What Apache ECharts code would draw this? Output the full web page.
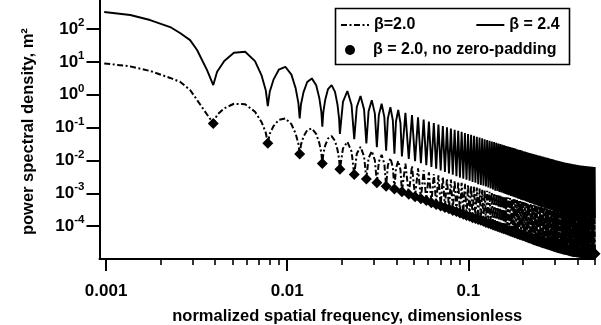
<!DOCTYPE html>
<html>
<head>
<meta charset="utf-8">
<script src="https://cdn.jsdelivr.net/npm/echarts@6/dist/echarts.min.js"></script>
<style>html,body{margin:0;padding:0;background:#fff}#c{width:601px;height:325px}</style>
</head>
<body>
<div id="c"></div>
<script>
// ---------------- data ----------------
// spectrum bins: frequency = bin / BINS (zero-padded spectrum, lobes between bins)
const BINS = 256;

// main lobe, before the first bin
const mainFreq  = [0.000977, 0.00136, 0.00175, 0.00226, 0.00256, 0.00291, 0.00318, 0.00361];
const mainSolid = [330, 267, 188, 115, 75.5, 46, 23, 5.6];          // beta = 2.4
const mainDash  = [9.0, 7.3, 5.3, 3.25, 2.48, 1.40, 0.69, 0.25];     // beta = 2.0

// lobe shoulder positions (fraction of a bin) used for the first wide lobes
const fineT = [0.05, 0.15, 0.3, 0.7, 0.85, 0.95];
const midT  = [0.2, 0.8];

// beta = 2.4 : shoulders of lobes 1-4 and 5-10
const solidShoulderFine = [
  [5.02, 10.7, 19.0, 10.6, 3.82, 1.34],
  [1.23, 2.88, 5.78, 4.10, 1.57, 0.567],
  [0.513, 1.20, 2.45, 1.94, 0.79, 0.302],
  [0.292, 0.706, 1.49, 1.22, 0.50, 0.187]
];
const solidShoulderMid = [[0.608, 0.489], [0.424, 0.353], [0.313, 0.266], [0.240, 0.208], [0.190, 0.167], [0.153, 0.137]];

// beta = 2.0 : shoulders of lobes 1-4 and 5-10
const dashShoulderFine = [
  [0.245, 0.386, 0.532, 0.304, 0.145, 0.0695],
  [0.0643, 0.111, 0.172, 0.127, 0.0655, 0.0326],
  [0.0304, 0.0531, 0.0836, 0.0644, 0.0336, 0.0169],
  [0.0160, 0.0286, 0.0465, 0.0393, 0.0213, 0.0110]
];
const dashShoulderMid = [[0.0232, 0.0187], [0.0160, 0.0133], [0.0118, 0.0101], [0.00906, 0.00785], [0.00716, 0.00630], [0.00581, 0.00519]];

// beta = 2.4 : lobe peaks (bins 1.5 ... 127.5) and dips (bins 1 ... 128)
const solidPeaks = [20.4, 7.11, 3.15, 1.97, 1.30, 0.92, 0.685, 0.53, 0.42, 0.343,
  0.284, 0.239, 0.204, 0.176, 0.153, 0.137, 0.124, 0.112, 0.102, 0.0938,
  0.0863, 0.0798, 0.0740, 0.0687, 0.0641, 0.0600, 0.0562, 0.0528, 0.0498, 0.0470,
  0.0445, 0.0421, 0.0399, 0.0379, 0.0361, 0.0344, 0.0328, 0.0314, 0.0301, 0.0288,
  0.0277, 0.0266, 0.0256, 0.0246, 0.0237, 0.0229, 0.0220, 0.0213, 0.0206, 0.0199,
  0.0192, 0.0186, 0.0180, 0.0175, 0.0169, 0.0165, 0.0160, 0.0156, 0.0152, 0.0149,
  0.0145, 0.0141, 0.0138, 0.0135, 0.0132, 0.0129, 0.0126, 0.0123, 0.0120, 0.0118,
  0.0115, 0.0113, 0.0110, 0.0108, 0.0106, 0.0104, 0.0102, 0.0100, 0.0098, 0.0096,
  0.0094, 0.0093, 0.0091, 0.0089, 0.0088, 0.00865, 0.00855, 0.00844, 0.00834, 0.00824,
  0.00815, 0.00805, 0.00796, 0.00787, 0.00779, 0.00771, 0.00762, 0.00755, 0.00746, 0.00739,
  0.00731, 0.00724, 0.00716, 0.00710, 0.00705, 0.00700, 0.00697, 0.00692, 0.00689, 0.00684,
  0.00681, 0.00676, 0.00673, 0.00670, 0.00665, 0.00662, 0.00659, 0.00655, 0.00652, 0.00649,
  0.00646, 0.00641, 0.00638, 0.00635, 0.00632, 0.00630, 0.00627];
const solidDips = [1.97, 0.45, 0.19, 0.106, 0.0644, 0.0447, 0.0329, 0.0252, 0.0199, 0.0161,
  0.0133, 0.0112, 0.0095, 0.0082, 0.0072, 0.0063, 0.0056, 0.0050, 0.0045, 0.0040,
  0.0037, 0.0033, 0.0030, 0.0028, 0.0026, 0.0024, 0.0022, 0.0021, 0.0019, 0.0018,
  0.0017, 0.0016, 0.0015, 0.0014, 0.0013, 0.0012, 0.00118, 0.0011, 0.00106, 0.0010,
  9.6e-4, 9.1e-4, 8.7e-4, 8.3e-4, 8.0e-4, 7.6e-4, 7.3e-4, 7.0e-4, 6.7e-4, 6.4e-4,
  6.2e-4, 6.0e-4, 5.7e-4, 5.5e-4, 5.3e-4, 5.1e-4, 5.0e-4, 4.8e-4, 4.6e-4, 4.5e-4,
  4.3e-4, 4.2e-4, 4.1e-4, 3.9e-4, 3.83e-4, 3.74e-4, 3.64e-4, 3.56e-4, 3.46e-4, 3.38e-4,
  3.29e-4, 3.21e-4, 3.14e-4, 3.07e-4, 2.98e-4, 2.91e-4, 2.84e-4, 2.76e-4, 2.69e-4, 2.63e-4,
  2.58e-4, 2.55e-4, 2.50e-4, 2.46e-4, 2.43e-4, 2.39e-4, 2.36e-4, 2.32e-4, 2.28e-4, 2.25e-4,
  2.21e-4, 2.18e-4, 2.14e-4, 2.10e-4, 2.08e-4, 2.04e-4, 2.03e-4, 2.01e-4, 2.00e-4, 1.98e-4,
  1.97e-4, 1.96e-4, 1.94e-4, 1.92e-4, 1.91e-4, 1.90e-4, 1.89e-4, 1.88e-4, 1.86e-4, 1.84e-4,
  1.83e-4, 1.82e-4, 1.82e-4, 1.80e-4, 1.80e-4, 1.80e-4, 1.79e-4, 1.79e-4, 1.79e-4, 1.78e-4,
  1.78e-4, 1.77e-4, 1.77e-4, 1.77e-4, 1.75e-4, 1.75e-4, 1.74e-4, 1.74e-4];

// beta = 2.0 : lobe peaks (bins 1.5 ... 127.5) and dips (bins 1 ... 128, = non-padded samples)
const dashPeaks = [0.513, 0.1905, 0.0944, 0.055, 0.0372, 0.0259, 0.0193, 0.0149, 0.0118, 0.00967,
  0.0080, 0.00674, 0.00575, 0.00496, 0.00431, 0.00386, 0.00350, 0.00316, 0.00288, 0.00264,
  0.00243, 0.00225, 0.00209, 0.00194, 0.00181, 0.00169, 0.00158, 0.00149, 0.00140, 0.00132,
  0.00125, 0.00119, 0.00112, 0.00107, 0.00102, 9.7e-4, 9.2e-4, 8.9e-4, 8.5e-4, 8.1e-4,
  7.8e-4, 7.5e-4, 7.2e-4, 6.9e-4, 6.7e-4, 6.5e-4, 6.2e-4, 6.0e-4, 5.8e-4, 5.6e-4,
  5.4e-4, 5.2e-4, 5.1e-4, 4.9e-4, 4.8e-4, 4.7e-4, 4.5e-4, 4.4e-4, 4.3e-4, 4.2e-4,
  4.1e-4, 4.0e-4, 3.9e-4, 3.8e-4, 3.7e-4, 3.6e-4, 3.55e-4, 3.5e-4, 3.4e-4, 3.3e-4,
  3.2e-4, 3.2e-4, 3.1e-4, 3.0e-4, 3.0e-4, 2.9e-4, 2.9e-4, 2.8e-4, 2.8e-4, 2.7e-4,
  2.6e-4, 2.6e-4, 2.6e-4, 2.5e-4, 2.5e-4, 2.4e-4, 2.4e-4, 2.4e-4, 2.35e-4, 2.3e-4,
  2.3e-4, 2.3e-4, 2.2e-4, 2.2e-4, 2.2e-4, 2.2e-4, 2.1e-4, 2.1e-4, 2.1e-4, 2.1e-4,
  2.1e-4, 2.0e-4, 2.0e-4, 2.0e-4, 1.99e-4, 1.97e-4, 1.96e-4, 1.95e-4, 1.94e-4, 1.93e-4,
  1.92e-4, 1.90e-4, 1.90e-4, 1.89e-4, 1.87e-4, 1.87e-4, 1.86e-4, 1.85e-4, 1.84e-4, 1.83e-4,
  1.82e-4, 1.81e-4, 1.80e-4, 1.79e-4, 1.78e-4, 1.78e-4, 1.77e-4];
const dashDips = [0.134, 0.0331, 0.0156, 0.0081, 0.00536, 0.00372, 0.00273, 0.00209, 0.00165, 0.00134,
  0.00111, 9.3e-4, 7.9e-4, 6.8e-4, 6.0e-4, 5.2e-4, 4.6e-4, 4.1e-4, 3.7e-4, 3.4e-4,
  3.0e-4, 2.8e-4, 2.5e-4, 2.3e-4, 2.1e-4, 2.0e-4, 1.8e-4, 1.7e-4, 1.6e-4, 1.5e-4,
  1.4e-4, 1.3e-4, 1.23e-4, 1.16e-4, 1.09e-4, 1.03e-4, 9.8e-5, 9.3e-5, 8.8e-5, 8.4e-5,
  8.0e-5, 7.6e-5, 7.2e-5, 6.9e-5, 6.6e-5, 6.3e-5, 6.1e-5, 5.8e-5, 5.6e-5, 5.4e-5,
  5.2e-5, 5.0e-5, 4.8e-5, 4.6e-5, 4.4e-5, 4.3e-5, 4.1e-5, 4.0e-5, 3.8e-5, 3.7e-5,
  3.6e-5, 3.5e-5, 3.4e-5, 3.27e-5, 3.19e-5, 3.11e-5, 3.03e-5, 2.96e-5, 2.88e-5, 2.81e-5,
  2.74e-5, 2.67e-5, 2.61e-5, 2.55e-5, 2.48e-5, 2.42e-5, 2.36e-5, 2.30e-5, 2.24e-5, 2.19e-5,
  2.15e-5, 2.12e-5, 2.08e-5, 2.05e-5, 2.02e-5, 1.99e-5, 1.96e-5, 1.93e-5, 1.90e-5, 1.87e-5,
  1.84e-5, 1.81e-5, 1.78e-5, 1.75e-5, 1.73e-5, 1.70e-5, 1.69e-5, 1.67e-5, 1.66e-5, 1.65e-5,
  1.64e-5, 1.63e-5, 1.61e-5, 1.60e-5, 1.59e-5, 1.58e-5, 1.57e-5, 1.56e-5, 1.55e-5, 1.53e-5,
  1.52e-5, 1.51e-5, 1.51e-5, 1.50e-5, 1.50e-5, 1.50e-5, 1.49e-5, 1.49e-5, 1.49e-5, 1.48e-5,
  1.48e-5, 1.47e-5, 1.47e-5, 1.47e-5, 1.46e-5, 1.46e-5, 1.45e-5, 1.45e-5];

// axis ticks / labels
const xMajorTicks = [0.001, 0.01, 0.1];
const xTickLabels = ['0.001', '0.01', '0.1'];
const xMinorTicks = [0.002, 0.003, 0.004, 0.005, 0.006, 0.007, 0.008, 0.009,
  0.02, 0.03, 0.04, 0.05, 0.06, 0.07, 0.08, 0.09, 0.2, 0.3, 0.4, 0.5];
const yTicks = [1e-4, 1e-3, 1e-2, 1e-1, 1, 10, 100];
const yTickExponents = ['-4', '-3', '-2', '-1', '0', '1', '2'];

const seriesNames = ['\u03b2=2.0', '\u03b2 = 2.4', '\u03b2 = 2.0, no zero-padding'];

// ---------------- build ----------------
function buildCurve(mainV, peaks, dips, fineSh, midSh) {
  const pts = mainFreq.map((f, i) => [f, mainV[i]]);
  for (let k = 1; k <= dips.length; k++) {
    pts.push([k / BINS, dips[k - 1]]);
    if (k > peaks.length) break;
    let lt = [], rt = [], lv = [], rv = [];
    if (k <= fineSh.length) {
      const sh = fineSh[k - 1];
      lt = fineT.slice(0, 3); rt = fineT.slice(3); lv = sh.slice(0, 3); rv = sh.slice(3);
    } else if (k <= fineSh.length + midSh.length) {
      const sh = midSh[k - 1 - fineSh.length];
      lt = [midT[0]]; rt = [midT[1]]; lv = [sh[0]]; rv = [sh[1]];
    }
    lt.forEach((t, i) => pts.push([(k + t) / BINS, lv[i]]));
    pts.push([(k + 0.5) / BINS, peaks[k - 1]]);
    rt.forEach((t, i) => pts.push([(k + t) / BINS, rv[i]]));
  }
  return pts;
}

const solidData = buildCurve(mainSolid, solidPeaks, solidDips, solidShoulderFine, solidShoulderMid);
const dashData = buildCurve(mainDash, dashPeaks, dashDips, dashShoulderFine, dashShoulderMid);
const markerData = dashDips.map((v, i) => [(i + 1) / BINS, v]);

const FONT = '"Liberation Sans", Arial, Helvetica, sans-serif';
const chart = echarts.init(document.getElementById('c'), null, { renderer: 'canvas' });

chart.setOption({
  animation: false,
  backgroundColor: '#fff',
  grid: { left: 99.5, right: 6, top: -3.8, bottom: 66, containLabel: false, outerBoundsMode: 'none' },
  xAxis: [
    {
      type: 'log', logBase: 10, min: 0.00092, max: 0.5,
      axisLine: { lineStyle: { color: '#000', width: 2 } },
      axisTick: { customValues: xMajorTicks, length: 12, lineStyle: { color: '#000', width: 2 } },
      axisLabel: {
        customValues: xMajorTicks, margin: 24, fontSize: 17, fontWeight: 'bold', color: '#000', fontFamily: FONT,
        formatter: (v) => xTickLabels[Math.round(Math.log10(v)) + 3]
      },
      splitLine: { show: false },
      name: 'normalized spatial frequency, dimensionless',
      nameLocation: 'middle', nameGap: 49,
      nameTextStyle: { fontSize: 16.5, fontWeight: 'bold', color: '#000', fontFamily: FONT }
    },
    {
      type: 'log', logBase: 10, min: 0.00092, max: 0.5, position: 'bottom',
      axisLine: { show: false },
      axisTick: { customValues: xMinorTicks, length: 6, lineStyle: { color: '#000', width: 1.6 } },
      axisLabel: { show: false },
      splitLine: { show: false }
    }
  ],
  yAxis: {
    type: 'log', logBase: 10, min: 1e-5, max: 1e3,
    axisLine: { lineStyle: { color: '#000', width: 2 } },
    axisTick: { customValues: yTicks, length: 13, lineStyle: { color: '#000', width: 2 } },
    axisLabel: {
      customValues: yTicks, margin: 15, color: '#000', fontFamily: FONT,
      formatter: (v) => '{b|10}{s|' + yTickExponents[Math.round(Math.log10(v)) + 4] + '}',
      rich: {
        b: { fontSize: 17, fontWeight: 'bold', fontFamily: FONT, color: '#000', verticalAlign: 'middle', lineHeight: 24 },
        s: { fontSize: 11.5, fontWeight: 'bold', fontFamily: FONT, color: '#000', verticalAlign: 'top', lineHeight: 14 }
      }
    },
    splitLine: { show: false },
    name: 'power spectral density, m\u00b2',
    nameLocation: 'middle', nameGap: 63,
    nameTextStyle: { fontSize: 16.5, fontWeight: 'bold', color: '#000', fontFamily: FONT, padding: [0, 8, 0, 0] }
  },
  legend: [
    {
      data: [seriesNames[0], seriesNames[1]],
      left: 340, top: 16, orient: 'horizontal', itemGap: 60,
      itemWidth: 28, itemHeight: 14, padding: 0, selectedMode: false,
      itemStyle: { opacity: 0 },
      textStyle: { fontSize: 16, fontWeight: 'bold', color: '#000', fontFamily: FONT, lineHeight: 18 }
    },
    {
      data: [{ name: seriesNames[2], icon: 'circle' }],
      left: 345, top: 42, orient: 'horizontal',
      itemWidth: 10, itemHeight: 11, padding: 0, selectedMode: false,
      itemStyle: { color: '#000', opacity: 1 },
      formatter: (name) => '{g|}{t|' + name + '}',
      textStyle: {
        color: '#000', fontFamily: FONT,
        rich: {
          g: { width: 13 },
          t: { fontSize: 16, fontWeight: 'bold', color: '#000', fontFamily: FONT, lineHeight: 18 }
        }
      }
    }
  ],
  graphic: [
    { type: 'rect', left: 333, top: 6, shape: { width: 234, height: 56 },
      style: { fill: 'none', stroke: '#000', lineWidth: 1.6 }, silent: true }
  ],
  series: [
    {
      name: seriesNames[0], type: 'line', data: dashData, showSymbol: false, symbol: 'none',
      lineStyle: { color: '#000', width: 2, type: [6, 2.5, 2, 2.5] }, itemStyle: { color: '#000' },
      silent: true, z: 2
    },
    {
      name: seriesNames[1], type: 'line', data: solidData, showSymbol: false, symbol: 'none',
      lineStyle: { color: '#000', width: 1.9, type: 'solid' }, itemStyle: { color: '#000' },
      silent: true, z: 3
    },
    {
      name: seriesNames[2], type: 'scatter', data: markerData, symbol: 'diamond', symbolSize: 11,
      itemStyle: { color: '#000', opacity: 1 }, silent: true, z: 4
    }
  ]
});
</script>
</body>
</html>
